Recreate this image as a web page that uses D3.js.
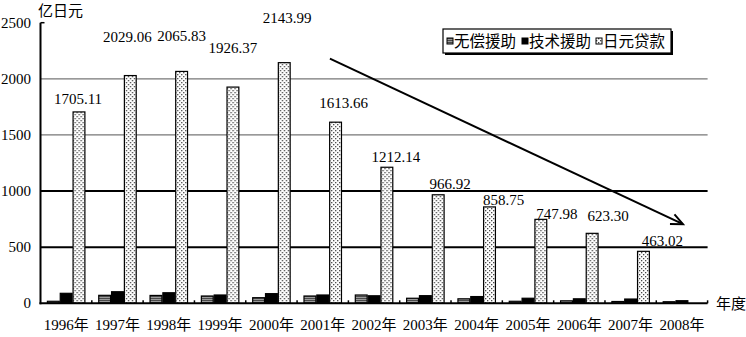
<!DOCTYPE html>
<html>
<head>
<meta charset="utf-8">
<script src="https://cdn.jsdelivr.net/npm/d3@7"></script>
<style>
  html, body { margin: 0; padding: 0; background: #fff; }
  svg { display: block; }
  text { font-family: "Liberation Serif", "Noto Sans CJK SC", serif; fill: #000; }
</style>
</head>
<body>
<svg id="chart" width="746" height="337"></svg>
<script>
// ---- data ----
const years = ['1996年','1997年','1998年','1999年','2000年','2001年','2002年','2003年','2004年','2005年','2006年','2007年','2008年'];
const seriesNames = ['无偿援助','技术援助','日元贷款'];
const grantAid = [18, 71, 70, 65, 50, 65, 74, 45, 40, 18, 22, 16, 14];
const techAid = [89, 103, 94, 74, 86, 74, 67, 68, 60, 45, 40, 38, 23];
const yenLoan = [1705.11, 2029.06, 2065.83, 1926.37, 2143.99, 1613.66, 1212.14, 966.92, 858.75, 747.98, 623.30, 463.02, 0];
const yenLoanLabels = ['1705.11','2029.06','2065.83','1926.37','2143.99','1613.66','1212.14','966.92','858.75','747.98','623.30','463.02',''];
const yTicks = [0, 500, 1000, 1500, 2000, 2500];
const yUnit = '亿日元';
const xUnit = '年度';
// manual nudges of the value labels (as placed in the original)
const labelDx = [-1, -3, 0, 0, 3, 8, 9, 12, 14, 16, 16, 19, 0];
const labelDy = [0, -26, -22, -26, -32, -6, 3, 2, 6, 8, -4, 3, 0];

const svg = d3.select('#chart');
const pLeft = 40.5, pRight = 707.6, pTop = 22.7, pBottom = 303.3;

const x0 = d3.scaleBand().domain(years).range([pLeft, pRight]).padding(0);
const x1 = d3.scaleBand().domain(seriesNames).range([0, x0.bandwidth()]).paddingInner(0).paddingOuter(0.5);
const y = d3.scaleLinear().domain([0, 2500]).range([pBottom, pTop]);

// patterns
const defs = svg.append('defs');
const pg = defs.append('pattern').attr('id', 'pGrant').attr('patternUnits', 'userSpaceOnUse').attr('width', 4).attr('height', 2);
pg.append('rect').attr('width', 4).attr('height', 2).attr('fill', '#9a9a9a');
pg.append('rect').attr('width', 4).attr('height', 1).attr('fill', '#4a4a4a');
const pd = defs.append('pattern').attr('id', 'pDots').attr('patternUnits', 'userSpaceOnUse').attr('width', 4).attr('height', 4);
pd.append('rect').attr('width', 4).attr('height', 4).attr('fill', '#fff');
pd.append('rect').attr('x', 0).attr('y', 0).attr('width', 1.3).attr('height', 1.3).attr('fill', '#444');
pd.append('rect').attr('x', 2).attr('y', 2).attr('width', 1.3).attr('height', 1.3).attr('fill', '#444');

// gridlines
const gridStyle = {500: ['#000', 2], 1000: ['#000', 2], 1500: ['#777', 1.3], 2000: ['#777', 1.3]};
svg.append('g').selectAll('line').data(yTicks.filter(t => t > 0 && t < 2500)).join('line')
  .attr('x1', pLeft).attr('x2', pRight)
  .attr('y1', d => y(d)).attr('y2', d => y(d))
  .attr('stroke', d => gridStyle[d][0]).attr('stroke-width', d => gridStyle[d][1]);

// bars
const fills = {'无偿援助': 'url(#pGrant)', '技术援助': '#000', '日元贷款': 'url(#pDots)'};
const dataRows = years.map((yr, i) => ({year: yr, values: [grantAid[i], techAid[i], yenLoan[i]]}));
const groups = svg.append('g').selectAll('g').data(dataRows).join('g')
  .attr('transform', d => `translate(${x0(d.year)},0)`);
groups.selectAll('rect').data(d => d.values.map((v, k) => ({name: seriesNames[k], value: v}))).join('rect')
  .attr('x', d => x1(d.name) + 0.5)
  .attr('width', x1.bandwidth() - 1)
  .attr('y', d => y(d.value))
  .attr('height', d => Math.max(0, y(0) - y(d.value)))
  .attr('fill', d => fills[d.name])
  .attr('stroke', '#000')
  .attr('stroke-width', d => d.value > 0 ? 1.2 : 0);

// value labels
svg.append('g').selectAll('text').data(dataRows).join('text')
  .attr('x', (d, i) => x0(d.year) + x1('日元贷款') + x1.bandwidth() / 2 + labelDx[i])
  .attr('y', (d, i) => y(d.values[2]) - 8 + labelDy[i])
  .attr('text-anchor', 'middle')
  .attr('font-size', 15)
  .text((d, i) => yenLoanLabels[i]);

// axes
svg.append('line').attr('x1', pLeft).attr('x2', pLeft).attr('y1', pTop).attr('y2', pBottom + 1)
  .attr('stroke', '#000').attr('stroke-width', 2);
svg.append('line').attr('x1', pLeft).attr('x2', pLeft + 4).attr('y1', y(2500)).attr('y2', y(2500))
  .attr('stroke', '#000').attr('stroke-width', 1.5);
svg.append('line').attr('x1', pLeft - 1).attr('x2', pRight).attr('y1', pBottom).attr('y2', pBottom)
  .attr('stroke', '#000').attr('stroke-width', 2);
// x tick marks at band boundaries
svg.append('g').selectAll('line').data(years).join('line')
  .attr('x1', (d, i) => pLeft + x0.step() * (i + 1)).attr('x2', (d, i) => pLeft + x0.step() * (i + 1))
  .attr('y1', pBottom).attr('y2', pBottom - 3)
  .attr('stroke', '#000').attr('stroke-width', 1.5);

svg.append('g').selectAll('text').data(yTicks).join('text')
  .attr('x', 31).attr('y', d => y(d) + 5)
  .attr('text-anchor', 'end').attr('font-size', 15)
  .text(d => d);

svg.append('g').selectAll('text').data(years).join('text')
  .attr('x', d => x0(d) + x0.bandwidth() / 2).attr('y', 330)
  .attr('text-anchor', 'middle').attr('font-size', 15)
  .text(d => d);

svg.append('text').attr('x', 38).attr('y', 16).attr('font-size', 15).text(yUnit);
svg.append('text').attr('x', 716).attr('y', 309).attr('font-size', 15).text(xUnit);

// trend arrow (in data coordinates: category index, value)
const arrowFrom = {i: 5.14, v: 2180};
const arrowTo = {i: 12.02, v: 705};
const xi = i => pLeft + x0.step() * (i + 0.5);
const ax1 = xi(arrowFrom.i), ay1 = y(arrowFrom.v), ax2 = xi(arrowTo.i), ay2 = y(arrowTo.v);
svg.append('line').attr('x1', ax1).attr('y1', ay1).attr('x2', ax2).attr('y2', ay2)
  .attr('stroke', '#000').attr('stroke-width', 2);
const ang = Math.atan2(ay2 - ay1, ax2 - ax1);
const hl = 13, ha = 0.42;
svg.append('path')
  .attr('d', `M${ax2 - hl * Math.cos(ang - ha)},${ay2 - hl * Math.sin(ang - ha)} L${ax2},${ay2} L${ax2 - hl * Math.cos(ang + ha)},${ay2 - hl * Math.sin(ang + ha)}`)
  .attr('fill', 'none').attr('stroke', '#000').attr('stroke-width', 2);

// legend
const lg = svg.append('g');
lg.append('rect').attr('x', 445).attr('y', 31).attr('width', 228).attr('height', 24).attr('fill', '#000');
lg.append('rect').attr('x', 443).attr('y', 29).attr('width', 228).attr('height', 24).attr('fill', '#fff')
  .attr('stroke', '#000').attr('stroke-width', 1.2);
const legendX = [447, 522, 596];
seriesNames.forEach((n, k) => {
  lg.append('rect').attr('x', legendX[k]).attr('y', 38).attr('width', 6).attr('height', 6)
    .attr('fill', fills[n]).attr('stroke', '#000').attr('stroke-width', 1);
  lg.append('text').attr('x', legendX[k] + 7).attr('y', 47).attr('font-size', 15.5).text(n);
});
</script>
</body>
</html>
